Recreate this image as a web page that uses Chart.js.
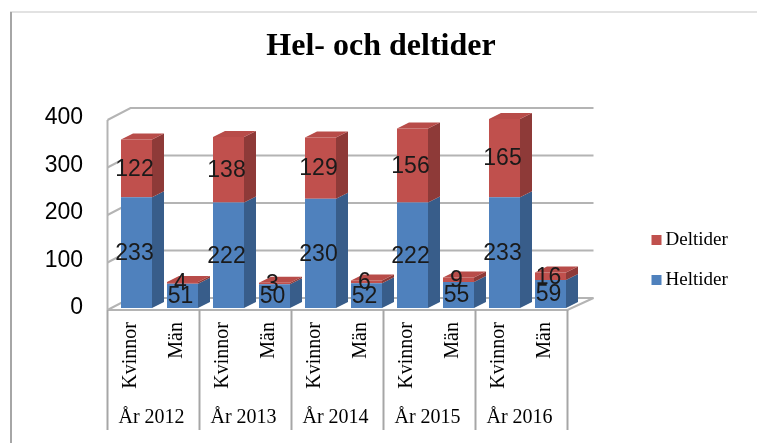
<!DOCTYPE html>
<html>
<head>
<meta charset="utf-8">
<script src="https://cdn.jsdelivr.net/npm/chart.js@4.4.0/dist/chart.umd.min.js"></script>
<style>
html,body{margin:0;padding:0;background:#fff;}
#wrap{width:757px;height:443px;}
</style>
</head>
<body>
<div id="wrap"><canvas id="c" width="757" height="443"></canvas></div>
<script>
// ---- data ----
const years = ['År 2012', 'År 2013', 'År 2014', 'År 2015', 'År 2016'];
const genders = ['Kvinnor', 'Män'];
const heltider = [233, 51, 222, 50, 230, 52, 222, 55, 233, 59];
const deltider = [122, 4, 138, 3, 129, 6, 156, 9, 165, 16];
const seriesNames = ['Heltider', 'Deltider'];
const yTickValues = [0, 100, 200, 300, 400];

const labels = [];
years.forEach(y => genders.forEach(g => labels.push([g, y])));

const BLUE = '#4F81BD', BLUE_SIDE = '#385D8A';
const RED = '#C0504D', RED_SIDE = '#8E3A38', RED_TOP = '#B84C49';
const sideColors = [BLUE_SIDE, RED_SIDE];
const DEPTH = {x: 12, y: -6};     // bar depth
const FRONT = {x: -6, y: 2};      // floor/front plane offset
const BACK = {x: 17, y: -10};     // back wall offset

const SERIF = "'Liberation Serif', 'Times New Roman', serif";
const SANS = "'Liberation Sans', Arial, sans-serif";

const threeD = {
  id: 'threeD',
  beforeDraw(chart) {
    const ctx = chart.ctx;
    ctx.save();
    ctx.fillStyle = '#fff';
    ctx.fillRect(0, 0, chart.width, chart.height);
    // outer frame
    ctx.strokeStyle = '#e2e2e2';
    ctx.lineWidth = 2;
    ctx.beginPath(); ctx.moveTo(10, 12); ctx.lineTo(chart.width, 12); ctx.stroke();
    ctx.strokeStyle = '#a6a6a6';
    ctx.beginPath(); ctx.moveTo(11, 12); ctx.lineTo(11, chart.height); ctx.stroke();
    ctx.restore();
  },
  beforeDatasetsDraw(chart) {
    const ctx = chart.ctx, ys = chart.scales.y, xs = chart.scales.x;
    const a = chart.chartArea;
    ctx.save();
    ctx.strokeStyle = '#b4b4b4';
    ctx.lineWidth = 2;
    const yTop = ys.getPixelForValue(yTickValues[yTickValues.length - 1]);
    const y0 = ys.getPixelForValue(0);
    // back wall gridlines + left wall diagonals
    yTickValues.forEach(v => {
      const py = ys.getPixelForValue(v);
      ctx.beginPath();
      ctx.moveTo(a.left + FRONT.x, py + FRONT.y);
      ctx.lineTo(a.left + BACK.x, py + BACK.y);
      ctx.lineTo(a.right + BACK.x + 3, py + BACK.y);
      ctx.stroke();
    });
    // left wall front edge
    ctx.beginPath();
    ctx.moveTo(a.left + FRONT.x, yTop + FRONT.y);
    ctx.lineTo(a.left + FRONT.x, y0 + FRONT.y);
    ctx.stroke();
    // floor front edge and right edge
    ctx.beginPath();
    ctx.moveTo(a.left + FRONT.x, y0 + FRONT.y);
    ctx.lineTo(a.right + FRONT.x, y0 + FRONT.y);
    ctx.lineTo(a.right + BACK.x + 3, y0 + BACK.y);
    ctx.stroke();
    // category group separators
    const catW = xs.getPixelForValue(1) - xs.getPixelForValue(0);
    ctx.strokeStyle = '#a6a6a6';
    for (let g = 0; g <= years.length; g++) {
      const px = xs.getPixelForValue(g * genders.length) - catW / 2 + FRONT.x;
      ctx.beginPath();
      ctx.moveTo(px, y0 + FRONT.y);
      ctx.lineTo(px, y0 + 122);
      ctx.stroke();
    }
    // category labels
    ctx.fillStyle = '#000';
    ctx.font = '20px ' + SERIF;
    labels.forEach((lab, i) => {
      const px = xs.getPixelForValue(i) + FRONT.x;
      ctx.save();
      ctx.translate(px, y0 + 14);
      ctx.rotate(-Math.PI / 2);
      ctx.textAlign = 'right';
      ctx.textBaseline = 'middle';
      ctx.fillText(lab[0], 0, 0);
      ctx.restore();
    });
    ctx.textAlign = 'center';
    ctx.textBaseline = 'middle';
    years.forEach((yr, g) => {
      const p1 = xs.getPixelForValue(g * genders.length);
      const p2 = xs.getPixelForValue(g * genders.length + genders.length - 1);
      ctx.fillText(yr, (p1 + p2) / 2 + FRONT.x - 2, y0 + 110);
    });
    ctx.restore();
  },
  afterDatasetsDraw(chart) {
    const ctx = chart.ctx;
    ctx.save();
    const nDs = chart.data.datasets.length;
    // 3D faces
    for (let di = 0; di < nDs; di++) {
      const meta = chart.getDatasetMeta(di);
      meta.data.forEach(el => {
        const p = el.getProps(['x', 'y', 'base', 'width'], true);
        const r = p.x + p.width / 2, l = p.x - p.width / 2;
        ctx.fillStyle = sideColors[di];
        ctx.beginPath();
        ctx.moveTo(r, p.y);
        ctx.lineTo(r + DEPTH.x, p.y + DEPTH.y);
        ctx.lineTo(r + DEPTH.x, p.base + DEPTH.y);
        ctx.lineTo(r, p.base);
        ctx.closePath();
        ctx.fill();
        if (di === nDs - 1) {
          ctx.fillStyle = RED_TOP;
          ctx.beginPath();
          ctx.moveTo(l, p.y);
          ctx.lineTo(l + DEPTH.x, p.y + DEPTH.y);
          ctx.lineTo(r + DEPTH.x, p.y + DEPTH.y);
          ctx.lineTo(r, p.y);
          ctx.closePath();
          ctx.fill();
        }
      });
    }
    // data labels
    ctx.fillStyle = '#1a1a1a';
    ctx.font = '23px ' + SANS;
    ctx.textAlign = 'center';
    ctx.textBaseline = 'middle';
    for (let di = 0; di < nDs; di++) {
      const meta = chart.getDatasetMeta(di);
      const vals = chart.data.datasets[di].data;
      meta.data.forEach((el, i) => {
        const p = el.getProps(['x', 'y', 'base'], true);
        ctx.fillText(String(vals[i]), p.x - 2, (p.y + p.base) / 2 + 1);
      });
    }
    // legend (reverse order: top series first)
    ctx.font = '19px ' + SERIF;
    ctx.textAlign = 'left';
    const ds = chart.data.datasets;
    const legX = chart.chartArea.right + 78;
    const legY = [chart.chartArea.top + 122, chart.chartArea.top + 162];
    [ds.length - 1, 0].forEach((di, k) => {
      ctx.fillStyle = ds[di].backgroundColor;
      ctx.fillRect(legX, legY[k] - 5, 10, 10);
      ctx.fillStyle = '#000';
      ctx.fillText(ds[di].label, legX + 14, legY[k]);
    });
    ctx.restore();
  }
};

new Chart(document.getElementById('c'), {
  type: 'bar',
  data: {
    labels: labels,
    datasets: [
      {label: seriesNames[0], data: heltider, backgroundColor: BLUE, stack: 's'},
      {label: seriesNames[1], data: deltider, backgroundColor: RED, stack: 's'}
    ]
  },
  options: {
    responsive: false,
    animation: false,
    devicePixelRatio: 1,
    layout: {padding: {left: 10, right: 5, top: 0, bottom: 135}},
    datasets: {bar: {categoryPercentage: 1, barPercentage: 0.674, borderWidth: 0}},
    plugins: {
      legend: {display: false},
      tooltip: {enabled: false},
      title: {
        display: true,
        text: 'Hel- och deltider',
        color: '#000',
        font: {family: SERIF, size: 32, weight: 'bold', lineHeight: 1.2},
        padding: {top: 28, bottom: 51.6}
      }
    },
    scales: {
      x: {
        stacked: true,
        display: false
      },
      y: {
        stacked: true,
        min: 0, max: 400,
        afterFit: s => { s.width = 103.5; },
        afterBuildTicks: s => { s.ticks = yTickValues.map(v => ({value: v})); },
        grid: {display: false, drawTicks: false},
        border: {display: false},
        ticks: {color: '#000', font: {family: SANS, size: 23}, padding: 30.5}
      },
      legendSpace: {
        type: 'linear',
        position: 'right',
        min: 0, max: 1,
        afterFit: s => { s.width = 178.5; },
        grid: {display: false, drawTicks: false},
        border: {display: false},
        ticks: {display: false}
      }
    }
  },
  plugins: [threeD]
});
</script>
</body>
</html>
